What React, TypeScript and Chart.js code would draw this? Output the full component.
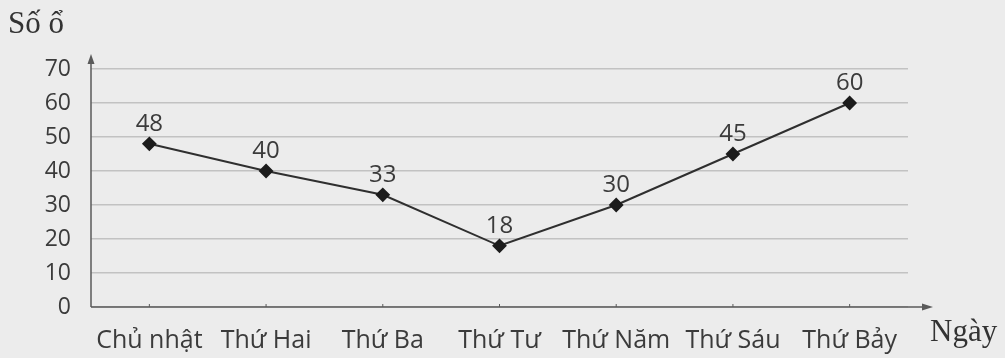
import React, { useEffect, useRef } from "react";
import { Chart, registerables } from "chart.js";

Chart.register(...registerables);

const days = ["Chủ nhật", "Thứ Hai", "Thứ Ba", "Thứ Tư", "Thứ Năm", "Thứ Sáu", "Thứ Bảy"];
const seats = [48, 40, 33, 18, 30, 45, 60];
const yTitle = "Số ổ";
const xTitle = "Ngày";

const TEXT = "#3b3b3b";
const SANS = "'Open Sans', 'Noto Sans', sans-serif";
const SERIF = "'Liberation Serif', 'DejaVu Serif', serif";

const decorPlugin = {
  id: "decor",
  afterDatasetsDraw(chart: any) {
    const { ctx, chartArea } = chart;
    const { left, right, top, bottom } = chartArea;
    ctx.save();
    ctx.strokeStyle = "#5a5a5a";
    ctx.fillStyle = "#5a5a5a";
    ctx.lineWidth = 1.5;
    // y axis with arrow
    ctx.beginPath();
    ctx.moveTo(left, bottom);
    ctx.lineTo(left, top - 10);
    ctx.stroke();
    ctx.beginPath();
    ctx.moveTo(left, top - 15);
    ctx.lineTo(left - 3.5, top - 5);
    ctx.lineTo(left + 3.5, top - 5);
    ctx.closePath();
    ctx.fill();
    // x axis with arrow
    ctx.beginPath();
    ctx.moveTo(left, bottom);
    ctx.lineTo(right + 18, bottom);
    ctx.stroke();
    ctx.beginPath();
    ctx.moveTo(right + 25, bottom);
    ctx.lineTo(right + 14, bottom - 3.5);
    ctx.lineTo(right + 14, bottom + 3.5);
    ctx.closePath();
    ctx.fill();
    // category tick marks
    const meta = chart.getDatasetMeta(0);
    ctx.lineWidth = 1;
    meta.data.forEach((pt: any) => {
      ctx.beginPath();
      ctx.moveTo(pt.x, bottom - 3);
      ctx.lineTo(pt.x, bottom);
      ctx.stroke();
    });
    // data labels
    ctx.fillStyle = TEXT;
    ctx.font = `24px ${SANS}`;
    ctx.textAlign = "center";
    ctx.textBaseline = "alphabetic";
    meta.data.forEach((pt: any, i: number) => {
      ctx.fillText(String(seats[i]), pt.x, pt.y - 13);
    });
    // axis titles
    ctx.font = `31px ${SERIF}`;
    ctx.fillStyle = "#333";
    ctx.textAlign = "left";
    ctx.fillText(yTitle, 8, 33);
    ctx.fillText(xTitle, right + 22, 341);
    ctx.restore();
  },
};

export default function App() {
  const ref = useRef<HTMLCanvasElement>(null);
  useEffect(() => {
    if (!ref.current) return;
    const chart = new Chart(ref.current, {
      type: "line",
      data: {
        labels: days,
        datasets: [
          {
            data: seats,
            borderColor: "#2f2f2f",
            borderWidth: 2,
            pointStyle: "rectRot",
            pointRadius: 6,
            pointBackgroundColor: "#1c1c1c",
            pointBorderColor: "#1c1c1c",
            tension: 0,
          },
        ],
      },
      options: {
        animation: false,
        responsive: false,
        layout: { padding: { left: 21, top: 69, right: 97, bottom: 0 } },
        plugins: { legend: { display: false }, tooltip: { enabled: false } },
        scales: {
          x: {
            offset: true,
            grid: { display: false, drawTicks: false },
            border: { display: false },
            ticks: { color: TEXT, font: { family: SANS, size: 25 }, padding: 19, maxRotation: 0 },
            afterFit: (s: any) => {
              s.height = 51;
            },
          },
          y: {
            min: 0,
            max: 70,
            ticks: { stepSize: 10, color: TEXT, font: { family: SANS, size: 23 }, padding: 20 },
            grid: { color: "#c2c2c2", lineWidth: 1.5, drawTicks: false },
            border: { display: false },
            afterFit: (s: any) => {
              s.width = 70;
            },
          },
        },
      },
      plugins: [decorPlugin],
    });
    return () => chart.destroy();
  }, []);
  return (
    <div style={{ position: "absolute", left: 0, top: 0, width: 1005, height: 358, background: "#ececec" }}>
      <canvas ref={ref} width={1005} height={358} style={{ display: "block" }} />
    </div>
  );
}
